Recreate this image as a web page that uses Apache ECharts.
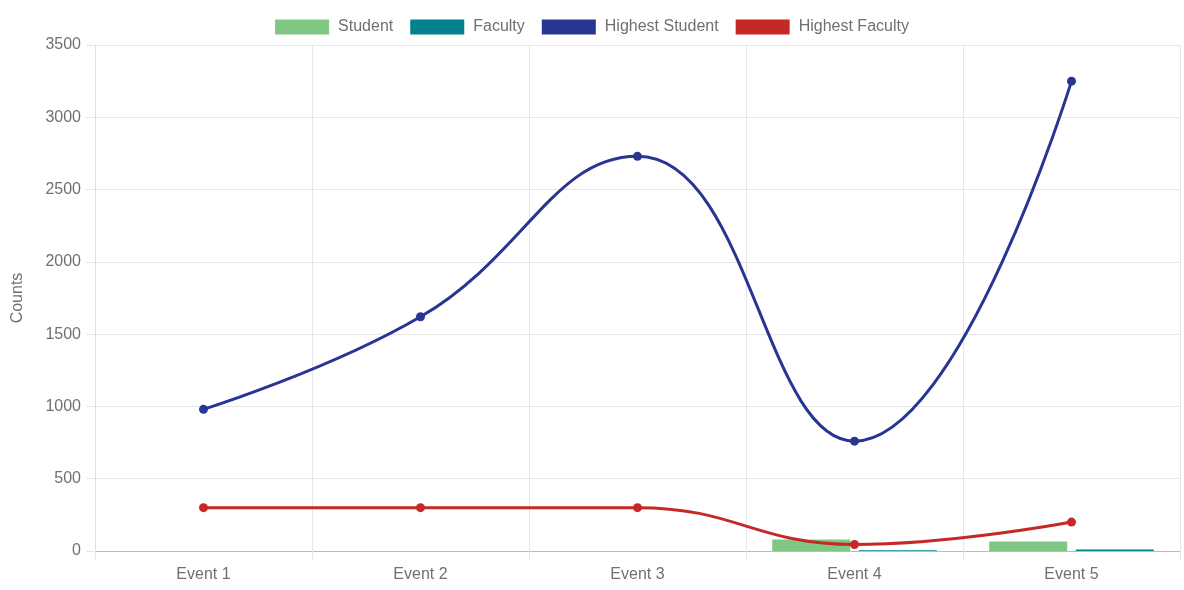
<!DOCTYPE html>
<html><head><meta charset="utf-8">
<script src="https://cdn.jsdelivr.net/npm/echarts@6/dist/echarts.min.js"></script>
<style>html,body{margin:0;padding:0;background:#fff}#c{width:1184px;height:590px}</style>
</head><body><div id="c"></div>
<script>
var categories = ['Event 1','Event 2','Event 3','Event 4','Event 5'];
var student = [0, 0, 0, 80, 65];
var faculty = [0, 0, 0, 5, 10];
var highestStudent = [980, 1620, 2730, 760, 3250];
var highestFaculty = [300, 300, 300, 45, 200];
var yTicks = [0, 500, 1000, 1500, 2000, 2500, 3000, 3500];

var font = '"Liberation Sans", Arial, sans-serif';
var txt = '#707070';
var chart = echarts.init(document.getElementById('c'));
chart.setOption({
  animation: false,
  textStyle: {fontFamily: font},
  legend: {
    top: 14, left: 'center', itemWidth: 54, itemHeight: 15, itemGap: 17,
    textStyle: {color: txt, fontSize: 16, fontFamily: font, padding: [0, 0, 0, 4]},
    data: [
      {name: 'Student', icon: 'rect'},
      {name: 'Faculty', icon: 'rect'},
      {name: 'Highest Student', icon: 'rect'},
      {name: 'Highest Faculty', icon: 'rect'}
    ]
  },
  grid: {left: 95, right: 4, top: 45, bottom: 39, containLabel: false},
  xAxis: {
    type: 'category', data: categories, boundaryGap: true,
    axisLine: {lineStyle: {color: '#bbb'}},
    axisTick: {show: true, length: 9, lineStyle: {color: '#e6e6e6'}},
    axisLabel: {color: txt, fontSize: 16, margin: 16, fontFamily: font},
    splitLine: {show: true, lineStyle: {color: '#e6e6e6'}}
  },
  yAxis: {
    type: 'value', min: yTicks[0], max: yTicks[yTicks.length-1], interval: 500,
    name: 'Counts', nameLocation: 'middle', nameGap: 69, nameRotate: 90,
    nameTextStyle: {color: txt, fontSize: 16, fontFamily: font},
    axisLine: {show: true, lineStyle: {color: '#e0e0e0'}},
    axisTick: {show: true, length: 9, lineStyle: {color: '#e6e6e6'}},
    axisLabel: {color: txt, fontSize: 16, margin: 14, fontFamily: font,
      formatter: function (v) { return String(v); }},
    splitLine: {show: true, lineStyle: {color: '#e6e6e6'}}
  },
  series: [
    {name: 'Student', type: 'bar', data: student, barWidth: 78, barGap: '11%',
     itemStyle: {color: '#81c784'}, z: 2},
    {name: 'Faculty', type: 'bar', data: faculty, barWidth: 78,
     itemStyle: {color: '#00838f'}, z: 2},
    {name: 'Highest Student', type: 'line', data: highestStudent, smooth: 0.45,
     symbol: 'circle', symbolSize: 9, showAllSymbol: true,
     lineStyle: {color: '#283593', width: 3}, itemStyle: {color: '#283593'}, z: 3},
    {name: 'Highest Faculty', type: 'line', data: highestFaculty, smooth: 0.45,
     symbol: 'circle', symbolSize: 9, showAllSymbol: true,
     lineStyle: {color: '#c62828', width: 3}, itemStyle: {color: '#c62828'}, z: 3}
  ]
});
</script></body></html>
